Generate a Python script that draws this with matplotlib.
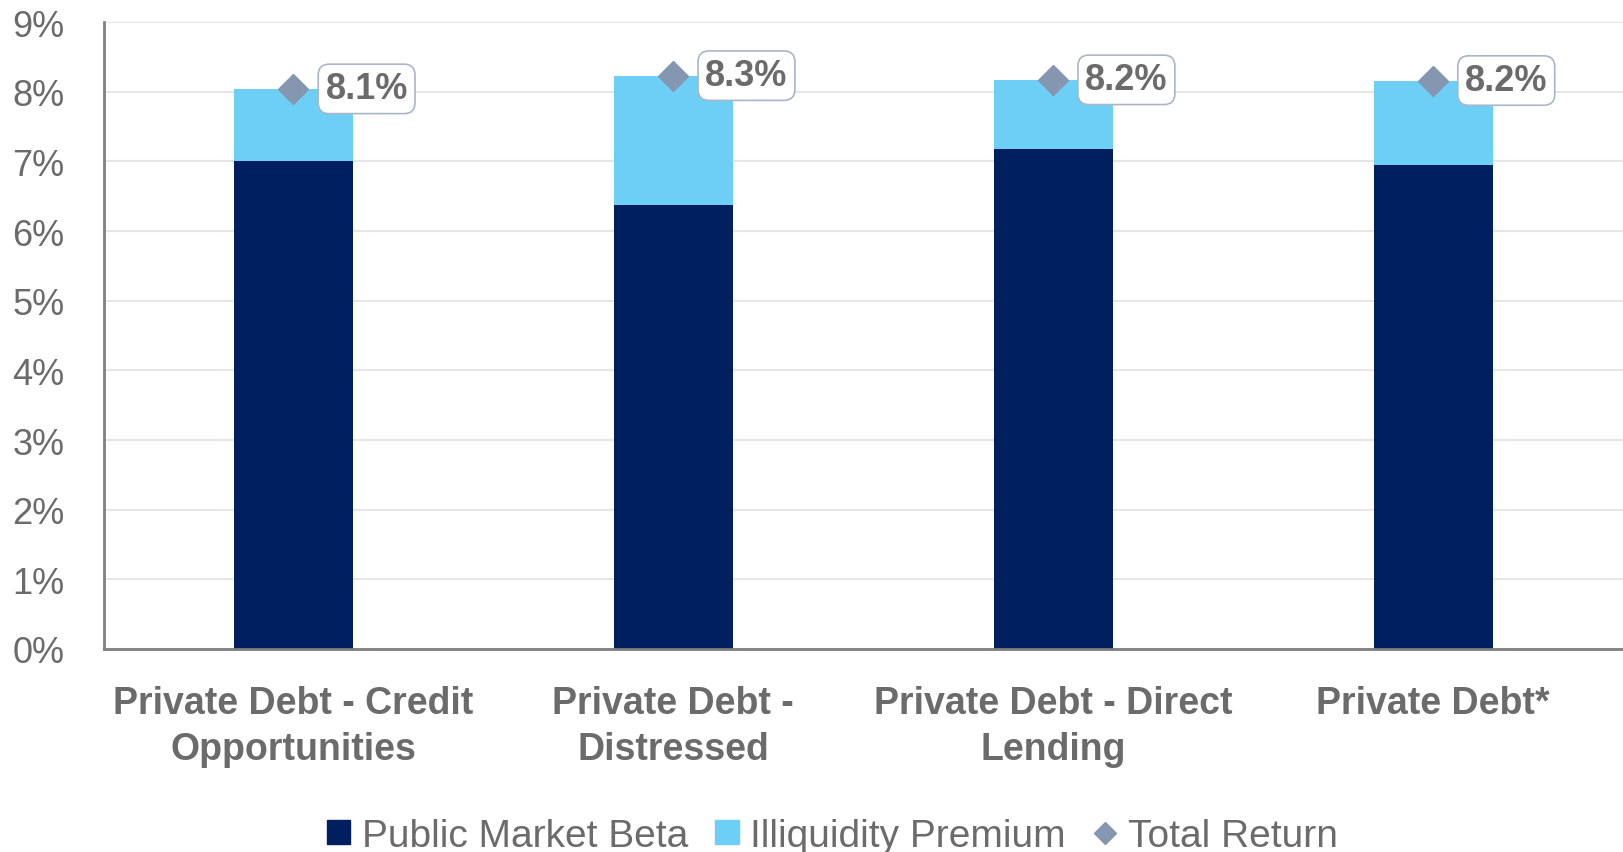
import matplotlib
matplotlib.use("Agg")
import matplotlib.pyplot as plt
import numpy as np
from matplotlib.lines import Line2D
from matplotlib.patches import Patch

categories = ["Private Debt - Credit\nOpportunities", "Private Debt -\nDistressed",
              "Private Debt - Direct\nLending", "Private Debt*"]
public_beta = [7.01, 6.37, 7.18, 6.95]
illiquidity = [1.03, 1.86, 0.99, 1.21]
total_return = [8.04, 8.23, 8.17, 8.16]
total_labels = ["8.1%", "8.3%", "8.2%", "8.2%"]
yticks = [0, 1, 2, 3, 4, 5, 6, 7, 8, 9]

plt.rcParams['font.family'] = ['Liberation Sans', 'DejaVu Sans']
navy = "#001f5f"
light = "#6dcff6"
slate = "#8496b0"
gray = "#6b6b6b"

fig = plt.figure(figsize=(16.23, 8.53), dpi=100)
ax = fig.add_axes([0.0638, 0.238, 0.9362, 0.735])

x = np.arange(len(categories))
w = 0.313
ax.bar(x, public_beta, w, color=navy, zorder=2)
ax.bar(x, illiquidity, w, bottom=public_beta, color=light, zorder=2)
ax.plot(x, total_return, linestyle='none', marker='D', ms=15, color=slate, zorder=4)

for xi, t, lab in zip(x, total_return, total_labels):
    ax.annotate(lab, (xi, t), xytext=(23, 0), textcoords='offset points',
                ha='left', va='center', fontsize=26, fontweight='bold', color=gray, zorder=5,
                bbox=dict(boxstyle='round,pad=0.2,rounding_size=0.3', fc='white', ec='#a9b6c8', lw=1.2))

ax.set_xlim(-0.5, 3.5)
ax.set_ylim(0, 9)
ax.set_yticks(yticks)
ax.set_yticklabels([f"{v}%" for v in yticks])
ax.set_xticks(x)
ax.set_xticklabels(categories, fontsize=27, fontweight='bold', color=gray, linespacing=1.35)
ax.tick_params(axis='y', length=0, pad=28, labelsize=26, labelcolor=gray)
ax.tick_params(axis='x', length=0, pad=26)
ax.grid(axis='y', color='#e6e6e6', lw=1.5, zorder=0)
ax.set_axisbelow(True)
for s in ['top', 'right']:
    ax.spines[s].set_visible(False)
for s in ['left', 'bottom']:
    ax.spines[s].set_color('#7f7f7f')
    ax.spines[s].set_linewidth(2)

handles = [Patch(color=navy, label='Public Market Beta'),
           Patch(color=light, label='Illiquidity Premium'),
           Line2D([], [], linestyle='none', marker='D', color=slate, ms=11, label='Total Return')]
leg = fig.legend(handles=handles, loc='center', bbox_to_anchor=(0.513, 0.019), ncol=3,
                 frameon=False, fontsize=28, handlelength=0.6, handleheight=0.6,
                 handletextpad=0.3, columnspacing=0.7)
for t in leg.get_texts():
    t.set_color(gray)

fig.savefig("out.png", dpi=100)
